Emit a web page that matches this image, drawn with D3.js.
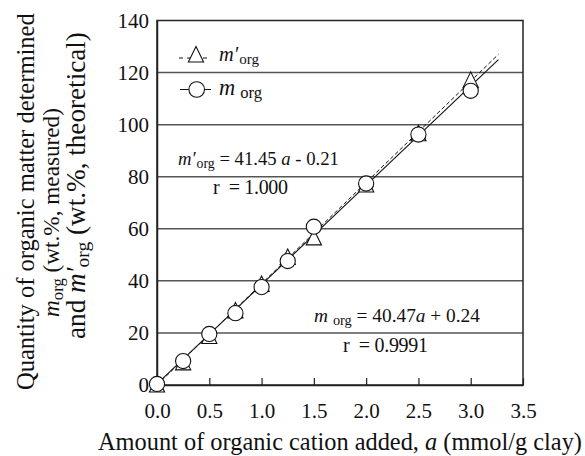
<!DOCTYPE html>
<html>
<head>
<meta charset="utf-8">
<script src="https://cdn.jsdelivr.net/npm/d3@7"></script>
<style>
  body { margin: 0; background: #fff; }
  svg { display: block; }
  text { font-family: 'Liberation Serif'; fill: #111; }
</style>
</head>
<body>
<svg id="chart" width="585" height="456"></svg>
<script>
// amount of organic cation added, a (mmol/g clay)
const amountAdded = [0, 0.25, 0.5, 0.75, 1.0, 1.25, 1.5, 2.0, 2.5, 3.0];
// m org, measured (circles)
const mMeasured = [0.4, 9.2, 19.6, 27.6, 37.6, 47.6, 60.8, 77.4, 96.2, 113];
// m' org, theoretical (triangles)
const mTheoretical = [0, 8.5, 18.6, 28.4, 38.6, 49, 56.5, 76.8, 96.5, 117];

// fitted lines as drawn in the figure
const fitA = [0, 3.265];
const fitMeasured = [0.4, 125];
const fitTheoretical = [0, 127];

const xTicks = [0, 0.5, 1.0, 1.5, 2.0, 2.5, 3.0, 3.5];
const yTicks = [0, 20, 40, 60, 80, 100, 120, 140];

const svg = d3.select("#chart");

const x = d3.scaleLinear().domain([0, 3.5]).range([157, 523]);
const y = d3.scaleLinear().domain([0, 140]).range([385, 20.5]);

// scale a text's font so it spans the wanted width
function fitWidth(t, width) {
  const size = +t.attr("font-size");
  const w = t.node().getComputedTextLength();
  t.attr("font-size", size * width / w);
  return t;
}

// gridlines
svg.append("g")
  .selectAll("line")
  .data(yTicks.filter(d => d > 0 && d < 140))
  .enter()
  .append("line")
  .attr("x1", x(0)).attr("x2", x(3.5))
  .attr("y1", d => y(d)).attr("y2", d => y(d))
  .attr("stroke", "#555")
  .attr("stroke-width", 1.5);

// frame
svg.append("rect")
  .attr("x", x(0)).attr("y", y(140))
  .attr("width", x(3.5) - x(0)).attr("height", y(0) - y(140))
  .attr("fill", "none")
  .attr("stroke", "#222")
  .attr("stroke-width", 1.5);

// x axis, ticks pointing inward
const xAxis = svg.append("g")
  .attr("transform", `translate(0,${y(0)})`)
  .call(d3.axisBottom(x).tickValues(xTicks).tickFormat(d3.format(".1f"))
    .tickSizeInner(-7).tickSizeOuter(0).tickPadding(18));
xAxis.attr("font-family", null);
xAxis.select(".domain").attr("stroke", "#222").attr("stroke-width", 1.5);
xAxis.selectAll(".tick line").attr("stroke", "#222").attr("stroke-width", 1.2);
xAxis.selectAll("text").attr("font-size", 21).style("font-family", "'Liberation Serif'");

// y axis
const yAxis = svg.append("g")
  .attr("transform", `translate(${x(0)},0)`)
  .call(d3.axisLeft(y).tickValues(yTicks).tickSize(0).tickPadding(8));
yAxis.attr("font-family", null);
yAxis.select(".domain").attr("stroke", "#222").attr("stroke-width", 1.5);
yAxis.selectAll("text").attr("font-size", 21).style("font-family", "'Liberation Serif'");

// fit lines
const line = d3.line().x(d => x(d[0])).y(d => y(d[1]));
svg.append("path")
  .attr("d", line(fitA.map((a, i) => [a, fitTheoretical[i]])))
  .attr("fill", "none").attr("stroke", "#111").attr("stroke-width", 1)
  .attr("stroke-dasharray", "4,2.5");
svg.append("path")
  .attr("d", line(fitA.map((a, i) => [a, fitMeasured[i]])))
  .attr("fill", "none").attr("stroke", "#111").attr("stroke-width", 1.1);

// markers: a slightly tall triangle like the original
const triShape = {
  draw(ctx) {
    ctx.moveTo(0, -8.5);
    ctx.lineTo(7.6, 7);
    ctx.lineTo(-7.6, 7);
    ctx.closePath();
  }
};
const tri = d3.symbol().type(triShape);
svg.append("g")
  .selectAll("path")
  .data(amountAdded.map((a, i) => [a, mTheoretical[i]]))
  .enter()
  .append("path")
  .attr("d", tri)
  .attr("transform", d => `translate(${x(d[0])},${y(d[1])})`)
  .attr("fill", "#fff").attr("stroke", "#111").attr("stroke-width", 1.1);

svg.append("g")
  .selectAll("circle")
  .data(amountAdded.map((a, i) => [a, mMeasured[i]]))
  .enter()
  .append("circle")
  .attr("cx", d => x(d[0])).attr("cy", d => y(d[1]))
  .attr("r", 7.6)
  .attr("fill", "#fff").attr("stroke", "#111").attr("stroke-width", 1.1);

// legend
const leg = svg.append("g");
leg.append("line").attr("x1", 179).attr("x2", 207).attr("y1", 58).attr("y2", 58)
  .attr("stroke", "#111").attr("stroke-width", 1).attr("stroke-dasharray", "4,4");
leg.append("path").attr("d", tri).attr("transform", "translate(196,55)")
  .attr("fill", "#fff").attr("stroke", "#111").attr("stroke-width", 1.1);
leg.append("line").attr("x1", 180).attr("x2", 211).attr("y1", 89.5).attr("y2", 89.5)
  .attr("stroke", "#111").attr("stroke-width", 1);
leg.append("circle").attr("cx", 196.7).attr("cy", 89.5).attr("r", 7.8)
  .attr("fill", "#fff").attr("stroke", "#111").attr("stroke-width", 1.1);

function mLabel(g, prime, xPos, yPos, size, gap) {
  const t = g.append("text").attr("x", xPos).attr("y", yPos).attr("font-size", size);
  t.append("tspan").attr("font-style", "italic").text(prime ? "m\u2032" : "m");
  t.append("tspan").attr("font-size", "0.74em").attr("dx", gap).attr("dy", 3).text("org");
  return t;
}
fitWidth(mLabel(leg, true, 219, 61, 21, 1), 39);
fitWidth(mLabel(leg, false, 219, 95, 21, 5), 38);

// equation annotations
const eq1 = mLabel(svg, true, 178, 165, 18.5, 1);
eq1.append("tspan").attr("dy", -3).text(" = 41.45 ");
eq1.append("tspan").attr("font-style", "italic").text("a");
eq1.append("tspan").text(" - 0.21");
fitWidth(eq1, 160);
svg.append("text").attr("x", 213).attr("y", 194).attr("font-size", 20)
  .attr("textLength", 75).attr("lengthAdjust", "spacing")
  .attr("xml:space", "preserve").text("r  = 1.000");

const eq2 = mLabel(svg, false, 314, 322, 18.5, 5);
eq2.append("tspan").attr("dy", -3).text(" = 40.47");
eq2.append("tspan").attr("font-style", "italic").text("a");
eq2.append("tspan").text(" + 0.24");
fitWidth(eq2, 161);
svg.append("text").attr("x", 343).attr("y", 352).attr("font-size", 20)
  .attr("textLength", 85).attr("lengthAdjust", "spacing")
  .attr("xml:space", "preserve").text("r  = 0.9991");

// axis titles
const xt = svg.append("text").attr("x", 340).attr("y", 450).attr("text-anchor", "middle")
  .attr("font-size", 24.3);
xt.append("tspan").text("Amount of organic cation added, ");
xt.append("tspan").attr("font-style", "italic").text("a");
xt.append("tspan").text(" (mmol/g clay)");
fitWidth(xt, 484);

fitWidth(svg.append("text").attr("transform", "translate(34,390) rotate(-90)")
  .attr("font-size", 24.5)
  .text("Quantity of organic matter determined"), 377);

const yl2 = svg.append("text").attr("transform", "translate(59,317) rotate(-90)")
  .attr("font-size", 25);
yl2.append("tspan").attr("font-style", "italic").text("m");
yl2.append("tspan").attr("font-size", "0.72em").attr("dy", 4).text("org");
yl2.append("tspan").attr("dy", -4).text(" (wt.%, measured)");
fitWidth(yl2, 209);

const yl3 = svg.append("text").attr("transform", "translate(85,339) rotate(-90)")
  .attr("font-size", 25);
yl3.append("tspan").text("and ");
yl3.append("tspan").attr("font-style", "italic").text("m\u2032");
yl3.append("tspan").attr("font-size", "0.72em").attr("dy", 4).text("org");
yl3.append("tspan").attr("dy", -4).text(" (wt.%, theoretical)");
fitWidth(yl3, 307);
</script>
</body>
</html>
